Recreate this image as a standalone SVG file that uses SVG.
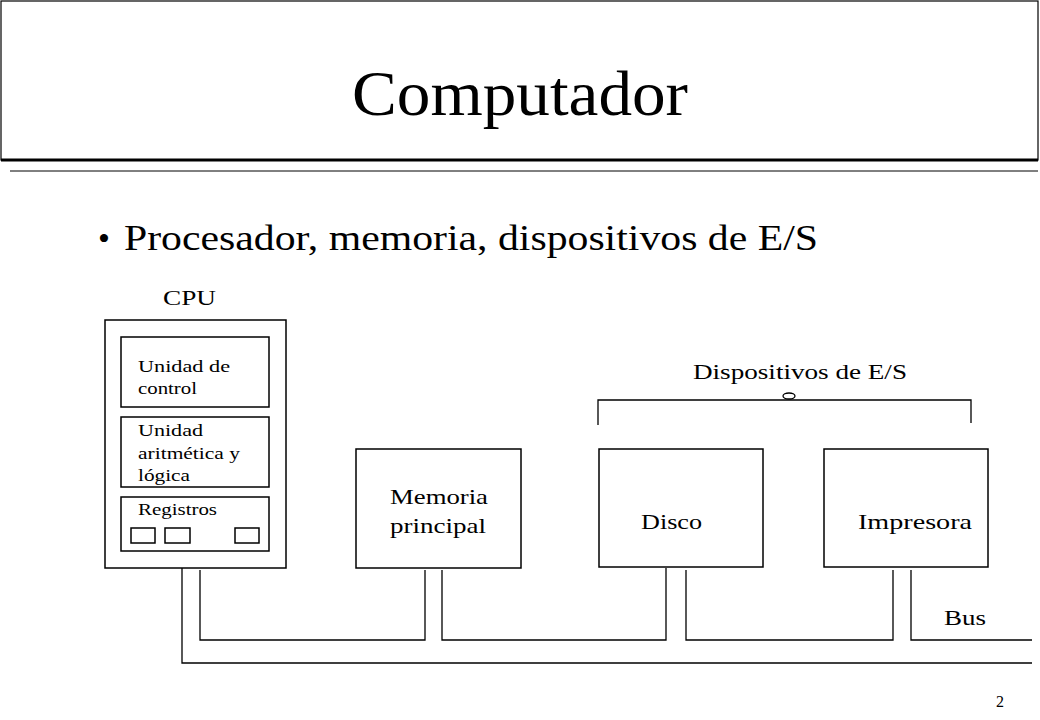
<svg xmlns="http://www.w3.org/2000/svg" width="1040" height="720" viewBox="0 0 1040 720">
<style>
text{font-family:"Liberation Serif","DejaVu Serif",serif;fill:#000}
.b{fill:#fff;stroke:#000;stroke-width:1.5}
.l{fill:none;stroke:#000;stroke-width:1.3}
.s{font-size:16px}
.m{font-size:21px}
</style>
<rect width="1040" height="720" fill="#fff"/>
<g id="title">
<rect x="1" y="1" width="1037" height="159" fill="#fff" stroke="#000" stroke-width="1.2"/>
<line x1="1" y1="160" x2="1038" y2="160" stroke="#000" stroke-width="3"/>
<line x1="10" y1="171" x2="1038" y2="171" stroke="#000" stroke-width="1"/>
<text x="352" y="115" font-size="64" textLength="336" lengthAdjust="spacingAndGlyphs">Computador</text>
</g>
<text x="98" y="250" font-size="34">•</text>
<text x="124" y="250" font-size="35" textLength="694" lengthAdjust="spacingAndGlyphs">Procesador, memoria, dispositivos de E/S</text>
<g id="cpu">
<text x="163" y="305" class="m" textLength="53" lengthAdjust="spacingAndGlyphs">CPU</text>
<rect class="b" x="105" y="320" width="181" height="248"/>
</g>
<g id="control"><rect class="b" x="121" y="337" width="148" height="70"/>
<text x="138" y="372" class="s" textLength="92" lengthAdjust="spacingAndGlyphs">Unidad de</text><text x="138" y="394" class="s" textLength="59" lengthAdjust="spacingAndGlyphs">control</text></g>
<g id="alu"><rect class="b" x="121" y="417" width="148" height="70"/>
<text x="138" y="436" class="s" textLength="65" lengthAdjust="spacingAndGlyphs">Unidad</text><text x="138" y="459" class="s" textLength="102" lengthAdjust="spacingAndGlyphs">aritmética y</text><text x="138" y="481" class="s" textLength="52" lengthAdjust="spacingAndGlyphs">lógica</text></g>
<g id="registros"><rect class="b" x="121" y="497" width="148" height="54"/>
<text x="138" y="515" class="s" textLength="79" lengthAdjust="spacingAndGlyphs">Registros</text>
<rect class="b" x="131" y="528" width="24" height="15"/><rect class="b" x="165" y="528" width="25" height="15"/><rect class="b" x="235" y="528" width="24" height="15"/></g>
<g id="memoria"><rect class="b" x="356" y="449" width="165" height="119"/>
<text x="390" y="504" class="m" textLength="98" lengthAdjust="spacingAndGlyphs">Memoria</text><text x="390" y="533" class="m" textLength="96" lengthAdjust="spacingAndGlyphs">principal</text></g>
<g id="disco"><rect class="b" x="599" y="449" width="164" height="118"/>
<text x="641" y="529" class="m" textLength="61" lengthAdjust="spacingAndGlyphs">Disco</text></g>
<g id="impresora"><rect class="b" x="824" y="449" width="164" height="118"/>
<text x="858" y="529" class="m" textLength="114" lengthAdjust="spacingAndGlyphs">Impresora</text></g>
<g id="dispositivos">
<text x="693" y="379" class="m" textLength="214" lengthAdjust="spacingAndGlyphs">Dispositivos de E/S</text>
<path class="l" d="M598,425V400H971V423"/>
<ellipse cx="789" cy="396" rx="6" ry="3" class="l"/>
</g>
<g id="connectors">
<path class="l" d="M182,568V663H1032"/>
<path class="l" d="M200,570V640H425V570"/>
<path class="l" d="M442,570V640H666V568"/>
<path class="l" d="M686,570V640H893V570"/>
<path class="l" d="M911,570V640H1032"/>
</g>
<text x="944" y="625" class="m" textLength="42" lengthAdjust="spacingAndGlyphs">Bus</text>
<text x="1000" y="707" text-anchor="middle" font-size="16">2</text>
</svg>
